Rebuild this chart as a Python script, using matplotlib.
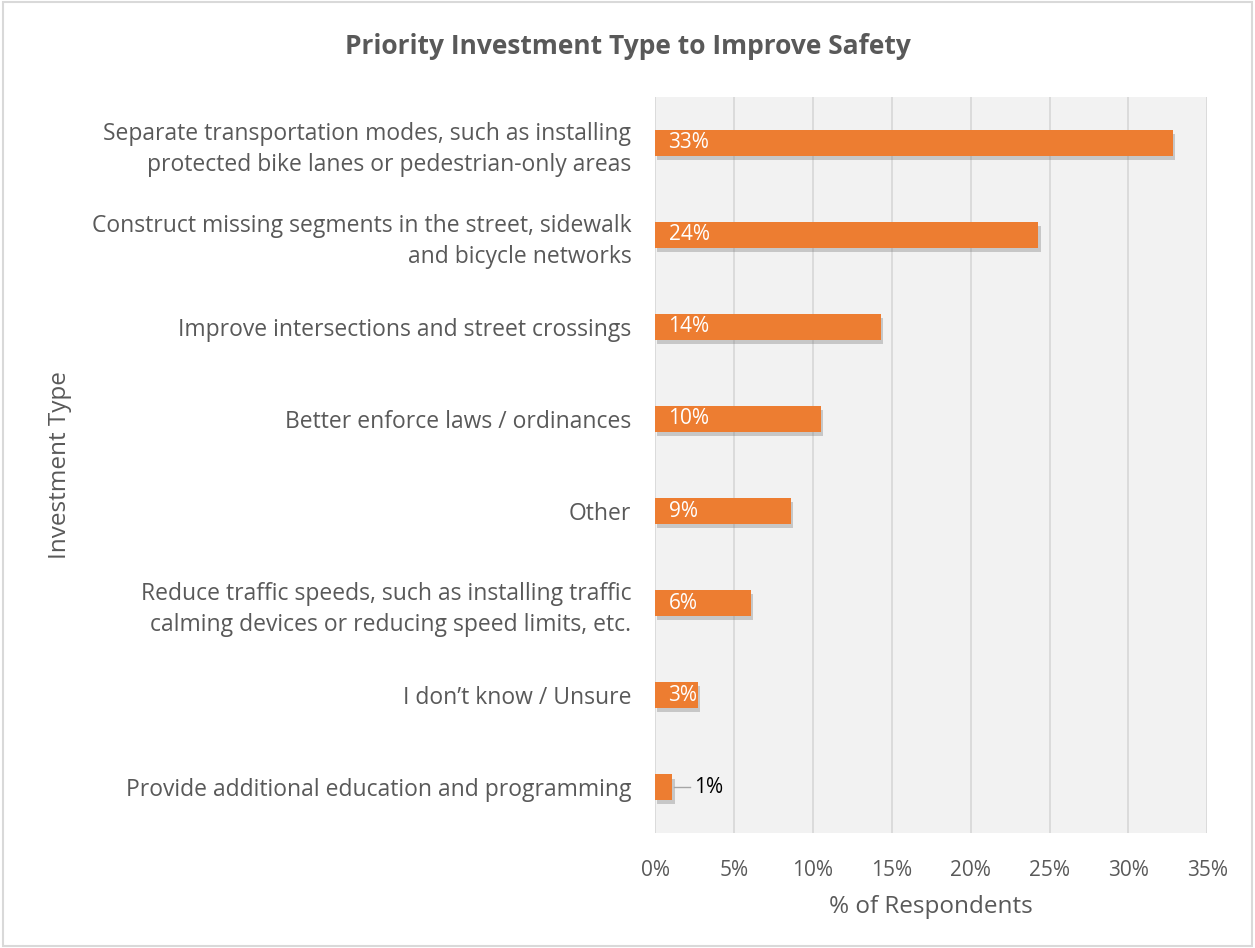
import numpy as np
import matplotlib.pyplot as plt
import matplotlib.patheffects as pe
from matplotlib.ticker import PercentFormatter

plt.rcParams['font.family'] = ['Open Sans', 'DejaVu Sans']

categorias = [
    'Separate transportation modes, such as installing\nprotected bike lanes or pedestrian-only areas',
    'Construct missing segments in the street, sidewalk\nand bicycle networks',
    'Improve intersections and street crossings',
    'Better enforce laws / ordinances',
    'Other',
    'Reduce traffic speeds, such as installing traffic\ncalming devices or reducing speed limits, etc.',
    'I don\u2019t know / Unsure',
    'Provide additional education and programming',
]
valores = [32.8, 24.3, 14.3, 10.5, 8.6, 6.1, 2.7, 1.1]
etiquetas = ['33%', '24%', '14%', '10%', '9%', '6%', '3%', '1%']

gris = '#595959'
naranja = '#ED7D31'

fig = plt.figure(figsize=(12.55, 9.48), dpi=100)
fig.patches.append(plt.Rectangle((0.002, 0.002), 0.996, 0.996, transform=fig.transFigure,
                                 fill=False, edgecolor='#d9d9d9', linewidth=1.5))
ax = fig.add_axes([0.522, 0.121, 0.44, 0.777])
ax.set_facecolor('#f2f2f2')

y = np.arange(len(categorias))
barras = ax.barh(y, valores, height=0.28, color=naranja, zorder=3)
for b in barras:
    b.set_path_effects([pe.SimplePatchShadow(offset=(1.5, -3), shadow_rgbFace='#777777', alpha=0.35),
                        pe.Normal()])

# etiquetas de datos
for i in range(len(valores)):
    if valores[i] > 2:
        ax.text(0.85, y[i], etiquetas[i], color='white', va='center', ha='left',
                fontsize=15, zorder=4)
    else:
        ax.plot([valores[i] + 0.1, valores[i] + 1.1], [y[i], y[i]], color='#a6a6a6',
                linewidth=1, zorder=4)
        ax.text(valores[i] + 1.4, y[i], etiquetas[i], color='black', va='center', ha='left',
                fontsize=15, zorder=4)

ax.set_ylim(len(categorias) - 0.5, -0.5)
ax.set_xlim(0, 35)
ax.set_xticks(np.arange(0, 36, 5))
ax.xaxis.set_major_formatter(PercentFormatter(decimals=0))
ax.set_yticks(y)
ax.set_yticklabels(categorias, fontsize=16.5, color=gris, linespacing=1.4)
ax.tick_params(axis='x', labelsize=15, colors=gris, length=0, pad=19)
ax.tick_params(axis='y', length=0, pad=17)
ax.grid(axis='x', color='#d9d9d9', linewidth=1.3, zorder=0)
for s in ax.spines.values():
    s.set_visible(False)

ax.set_xlabel('% of Respondents', fontsize=17.5, color=gris, labelpad=10)
fig.text(0.048, 0.509, 'Investment Type', rotation=90, fontsize=17.5, color=gris,
         ha='center', va='center')
fig.text(0.5, 0.951, 'Priority Investment Type to Improve Safety', fontsize=19,
         fontweight='bold', color=gris, ha='center', va='center')

fig.savefig('out.png', dpi=100)
